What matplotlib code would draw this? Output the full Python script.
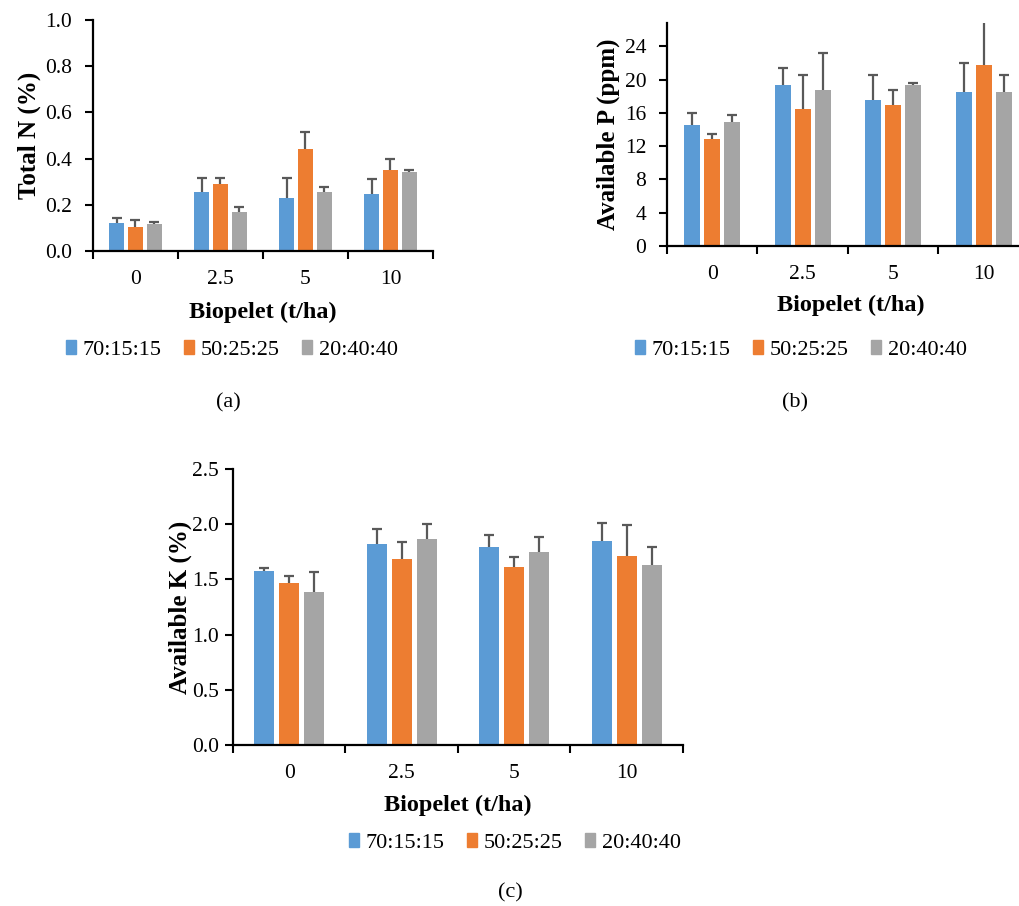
import numpy as np
import matplotlib.pyplot as plt
from matplotlib.patches import Patch

plt.rcParams['font.family'] = ['Liberation Serif', 'DejaVu Serif']

# data
doses = ["0", "2.5", "5", "10"]
series = ["70:15:15", "50:25:25", "20:40:40"]
colors = ["#5B9BD5", "#ED7D31", "#A5A5A5"]

# (a) Total N (%)
n_mean = [[0.123, 0.255, 0.229, 0.246],
          [0.106, 0.290, 0.443, 0.351],
          [0.116, 0.170, 0.255, 0.343]]
n_top = [[0.142, 0.316, 0.316, 0.313],
         [0.133, 0.316, 0.517, 0.397],
         [0.127, 0.190, 0.278, 0.349]]

# (b) Available P (ppm)
p_mean = [[14.5, 19.3, 17.6, 18.5],
          [12.9, 16.5, 16.9, 21.7],
          [14.9, 18.7, 19.3, 18.5]]
p_top = [[16.0, 21.4, 20.6, 21.95],
         [13.5, 20.5, 18.7, 28.0],
         [15.8, 23.2, 19.6, 20.5]]

# (c) Available K (%)
k_mean = [[1.576, 1.818, 1.796, 1.845],
          [1.470, 1.688, 1.609, 1.715],
          [1.389, 1.869, 1.745, 1.627]]
k_top = [[1.603, 1.957, 1.905, 2.011],
         [1.531, 1.839, 1.706, 1.996],
         [1.567, 2.005, 1.887, 1.790]]

W, H = 1020, 906
fig = plt.figure(figsize=(W / 100, H / 100), dpi=100)


def px_axes(left, top, right, bottom):
    return fig.add_axes([left / W, (H - bottom) / H, (right - left) / W, (bottom - top) / H])


def draw_panel(ax, means, tops, ylim, yticks, ylabel, fmt, ypad=9, lpad=3):
    x = np.arange(len(doses))
    step, width = 0.222, 0.178
    for i in range(len(series)):
        pos = x + (i - 1) * step
        ax.bar(pos, means[i], width, color=colors[i], zorder=2)
        # upper error bar only, Excel style
        ax.vlines(pos, means[i], tops[i], color='#595959', lw=1.6, zorder=3)
        ax.plot(pos, tops[i], ls='none', marker='_', ms=7.5, mew=1.6, color='#595959', zorder=3)
    ax.set_xlim(-0.5, len(doses) - 0.5)
    ax.set_ylim(*ylim)
    ax.set_yticks(yticks)
    ax.set_yticklabels([fmt.format(v) for v in yticks])
    ax.set_xticks(np.arange(len(doses) + 1) - 0.5)
    ax.set_xticklabels([])
    ax.set_xticks(x, minor=True)
    ax.set_xticklabels(doses, minor=True)
    ax.tick_params(axis='x', which='major', length=6, width=1.5, direction='out')
    ax.tick_params(axis='x', which='minor', length=0, pad=14, labelsize=15.5)
    ax.tick_params(axis='y', length=6, width=1.5, direction='out', labelsize=15.5, pad=ypad)
    for s in ['top', 'right']:
        ax.spines[s].set_visible(False)
    for s in ['left', 'bottom']:
        ax.spines[s].set_linewidth(1.6)
    ax.set_ylabel(ylabel, fontsize=18, fontweight='bold', labelpad=lpad)


handles = [Patch(color=c, label=s) for c, s in zip(colors, series)]


def add_legend(cx, cy):
    fig.legend(handles=handles, loc='center', bbox_to_anchor=(cx / W, 1 - cy / H), ncol=3,
               frameon=False, fontsize=16, handlelength=0.45, handleheight=0.6,
               handletextpad=0.3, columnspacing=1.0)


# (a)
axa = px_axes(93, 20, 433, 251)
draw_panel(axa, n_mean, n_top, (0, 1.0), [0, 0.2, 0.4, 0.6, 0.8, 1.0], "Total N (%)", "{:.1f}")
fig.text(263 / W, 1 - 312 / H, "Biopelet (t/ha)", ha='center', va='center', fontsize=17.5, fontweight='bold')
add_legend(232, 350)
fig.text(228 / W, 1 - 403 / H, "(a)", ha='center', va='center', fontsize=16)

# (b)
axb = px_axes(667, 23, 1029, 246)
draw_panel(axb, p_mean, p_top, (0, 26.8), [0, 4, 8, 12, 16, 20, 24], "Available P (ppm)", "{:.0f}")
fig.text(851 / W, 1 - 305 / H, "Biopelet (t/ha)", ha='center', va='center', fontsize=17.5, fontweight='bold')
add_legend(801, 350)
fig.text(795 / W, 1 - 403 / H, "(b)", ha='center', va='center', fontsize=16)

# (c)
axc = px_axes(233, 469, 683, 745)
draw_panel(axc, k_mean, k_top, (0, 2.5), [0, 0.5, 1.0, 1.5, 2.0, 2.5], "Available K (%)", "{:.1f}",
           ypad=4, lpad=0)
fig.text(458 / W, 1 - 805 / H, "Biopelet (t/ha)", ha='center', va='center', fontsize=17.5, fontweight='bold')
add_legend(515, 843)
fig.text(510 / W, 1 - 893 / H, "(c)", ha='center', va='center', fontsize=16)

fig.savefig("out.png", dpi=100)
